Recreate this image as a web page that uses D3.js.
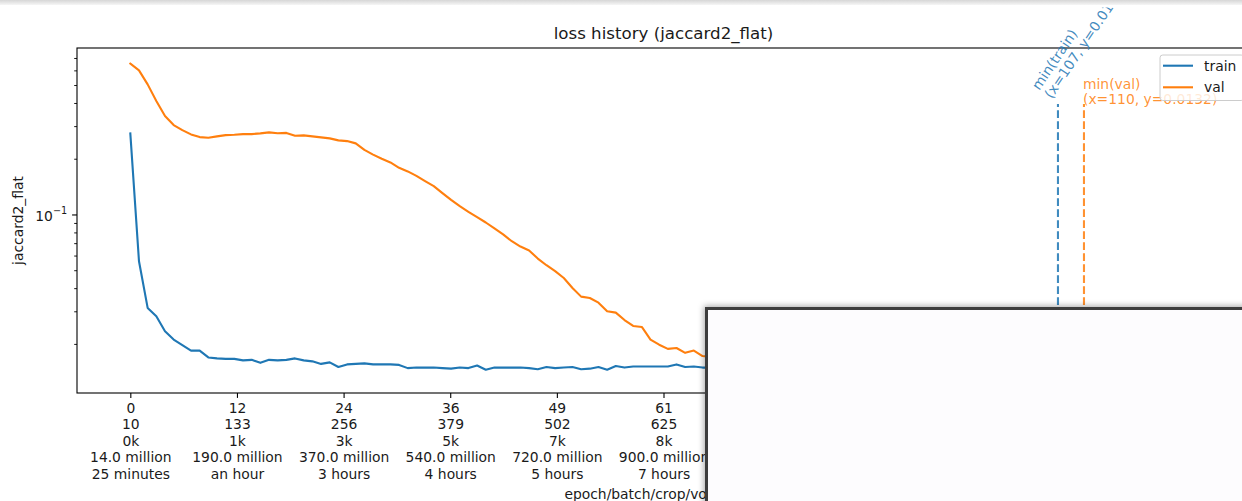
<!DOCTYPE html>
<html>
<head>
<meta charset="utf-8">
<script src="https://cdn.jsdelivr.net/npm/d3@7/dist/d3.min.js"></script>
<style>
  body { margin: 0; background: #fff; overflow: hidden; }
  svg { display: block; font-family: 'DejaVu Sans', sans-serif; }
</style>
</head>
<body>
<div id="chart"></div>
<script>
// loss per epoch (index = epoch)
const trainLoss = [
  0.274, 0.0559, 0.0313, 0.0282, 0.0234, 0.0211, 0.0197, 0.0184, 0.0184, 0.0169,
  0.0167, 0.0166, 0.0166, 0.0163, 0.0164, 0.0158, 0.0164, 0.0163, 0.0164, 0.0167,
  0.0163, 0.0161, 0.0156, 0.0159, 0.0150, 0.0155, 0.0156, 0.0157, 0.0155, 0.0155,
  0.0155, 0.0154, 0.0148, 0.0149, 0.0149, 0.0149, 0.0148, 0.0147, 0.0149, 0.0148,
  0.0153, 0.0145, 0.0149, 0.0149, 0.0149, 0.0149, 0.0148, 0.0146, 0.0150, 0.0148,
  0.0149, 0.0150, 0.0146, 0.0147, 0.0150, 0.0145, 0.0152, 0.0149, 0.0151, 0.0151,
  0.0151, 0.0151, 0.0151, 0.0155, 0.0150, 0.0151, 0.0149, 0.0149, 0.0148, 0.0150,
  0.0147, 0.0148, 0.0146, 0.0147, 0.0148, 0.0146, 0.0145, 0.0147, 0.0146, 0.0145,
  0.0146, 0.0144, 0.0145, 0.0146, 0.0144, 0.0145, 0.0143, 0.0144, 0.0145, 0.0143,
  0.0144, 0.0143, 0.0142, 0.0144, 0.0143, 0.0142, 0.0143, 0.0142, 0.0143, 0.0142,
  0.0141, 0.0142, 0.0143, 0.0141, 0.0142, 0.0141, 0.0142, 0.0140, 0.0142, 0.0141,
  0.0142, 0.0141, 0.0142, 0.0143, 0.0141, 0.0142, 0.0141, 0.0142, 0.0143, 0.0141,
  0.0142, 0.0141, 0.0142, 0.0141
];
const valLoss = [
  0.652, 0.600, 0.504, 0.410, 0.340, 0.304, 0.2855, 0.2706, 0.2617, 0.2594,
  0.2640, 0.2683, 0.2693, 0.2716, 0.2716, 0.2740, 0.2775, 0.2747, 0.2757, 0.2660,
  0.2673, 0.2640, 0.2607, 0.2575, 0.2512, 0.2490, 0.2420, 0.2232, 0.2105, 0.1998,
  0.1910, 0.1786, 0.1708, 0.1617, 0.1514, 0.1422, 0.1304, 0.1199, 0.1109, 0.1033,
  0.0967, 0.0905, 0.0840, 0.0780, 0.0717, 0.0671, 0.0639, 0.0578, 0.0532, 0.0494,
  0.0454, 0.0401, 0.0360, 0.0354, 0.0334, 0.0300, 0.0295, 0.0269, 0.0250, 0.0247,
  0.0211, 0.0198, 0.0188, 0.0190, 0.0179, 0.0184, 0.0172, 0.0170, 0.0168, 0.0166,
  0.0163, 0.0161, 0.0160, 0.0157, 0.0156, 0.0154, 0.0153, 0.0151, 0.0150, 0.0149,
  0.0147, 0.0146, 0.0146, 0.0144, 0.0143, 0.0143, 0.0142, 0.0141, 0.0141, 0.0140,
  0.0139, 0.0139, 0.0138, 0.0138, 0.0137, 0.0137, 0.0137, 0.0136, 0.0136, 0.0135,
  0.0135, 0.0135, 0.0134, 0.0134, 0.0134, 0.0133, 0.0133, 0.0134, 0.0133, 0.0133,
  0.0132, 0.0133, 0.0133, 0.0134, 0.0133, 0.0134, 0.0134, 0.0135, 0.0134, 0.0135,
  0.0135, 0.0136, 0.0135, 0.0136
];

// x tick positions (epochs) and the five label rows under each tick
const tickEpochs = [0, 12.3, 24.6, 36.9, 49.2, 61.5, 73.8, 86.1, 98.4, 110.7, 123];
const tickEpochLabels = ['0', '12', '24', '36', '49', '61', '73', '86', '98', '110', '123'];
const tickBatchLabels = ['10', '133', '256', '379', '502', '625', '748', '871', '994', '1117', '1240'];
const tickCropLabels = ['0k', '1k', '3k', '5k', '7k', '8k', '10k', '12k', '14k', '15k', '17k'];
const tickVoxelLabels = ['14.0 million', '190.0 million', '370.0 million', '540.0 million', '720.0 million',
  '900.0 million', '1.1 billion', '1.3 billion', '1.4 billion', '1.6 billion', '1.8 billion'];
const tickTimeLabels = ['25 minutes', 'an hour', '3 hours', '4 hours', '5 hours', '7 hours',
  '8 hours', '9 hours', '10 hours', '12 hours', '13 hours'];

const yMinorTicks = [0.02, 0.03, 0.04, 0.05, 0.06, 0.07, 0.08, 0.09, 0.2, 0.3, 0.4, 0.5, 0.6, 0.7];
const yMajorTicks = [0.1];
const annotTop = 0.395;

const blue = '#1f77b4';
const orange = '#ff7f0e';

function draw () {
  const svgWidth = 1242;
  const svgHeight = 501;
  const margin = { top: 48, left: 77 };
  const width = 1173;
  const height = 345;
  const fs = 13.89;

  const svg = d3.select('#chart')
    .append('svg')
    .attr('width', svgWidth)
    .attr('height', svgHeight);

  const defs = svg.append('defs');
  defs.append('clipPath').attr('id', 'plot-clip')
    .append('rect')
    .attr('x', margin.left).attr('y', margin.top)
    .attr('width', width).attr('height', height);
  // the figure itself starts a little below the window edge
  defs.append('clipPath').attr('id', 'fig-clip')
    .append('rect')
    .attr('x', 0).attr('y', 7.5)
    .attr('width', svgWidth).attr('height', svgHeight);
  const shadow = defs.append('filter').attr('id', 'shadow')
    .attr('x', '-5%').attr('y', '-5%').attr('width', '110%').attr('height', '110%');
  shadow.append('feDropShadow')
    .attr('dx', -1).attr('dy', -1).attr('stdDeviation', 3)
    .attr('flood-color', '#000').attr('flood-opacity', 0.35);
  const band = defs.append('linearGradient').attr('id', 'band')
    .attr('x1', 0).attr('y1', 0).attr('x2', 0).attr('y2', 1);
  band.append('stop').attr('offset', '0%').attr('stop-color', '#d6d6d6');
  band.append('stop').attr('offset', '100%').attr('stop-color', '#f6f6f6');

  const train = trainLoss.map((v, i) => ({ epoch: i, value: v }));
  const val = valLoss.map((v, i) => ({ epoch: i, value: v }));

  // matplotlib-like 5% margins (log space on y)
  const xExt = d3.extent(train, d => d.epoch);
  const xPad = (xExt[1] - xExt[0]) * 0.05;
  const all = trainLoss.concat(valLoss);
  const lo = Math.log10(d3.min(all));
  const hi = Math.log10(d3.max(all));
  const yPad = (hi - lo) * 0.05;

  const x = d3.scaleLinear()
    .domain([xExt[0] - xPad, xExt[1] + xPad])
    .range([margin.left, margin.left + width]);
  const y = d3.scaleLog()
    .domain([Math.pow(10, lo - yPad), Math.pow(10, hi + yPad)])
    .range([margin.top + height, margin.top]);

  const y0 = margin.top + height;

  // x axis with multi-row labels
  const xAxis = svg.append('g')
    .attr('transform', `translate(0, ${y0})`)
    .call(d3.axisBottom(x).tickValues(tickEpochs).tickSize(4.9).tickPadding(4.9));
  xAxis.select('.domain').remove();
  xAxis.selectAll('.tick line').attr('stroke', '#000').attr('stroke-width', 1.1);
  const rows = [tickEpochLabels, tickBatchLabels, tickCropLabels, tickVoxelLabels, tickTimeLabels];
  xAxis.selectAll('.tick text').each(function (d, i) {
    const t = d3.select(this).text(null).attr('dy', null).attr('y', null)
      .attr('fill', '#1a1a1a').style('font-size', fs + 'px').style('font-family', 'DejaVu Sans');
    rows.forEach((row, r) => {
      t.append('tspan').attr('x', 0).attr('y', 20 + r * 16.4).text(row[i]);
    });
  });

  // y axis: minor ticks, then major tick with 10^-1 label
  const yMinor = svg.append('g')
    .attr('transform', `translate(${margin.left}, 0)`)
    .call(d3.axisLeft(y).tickValues(yMinorTicks).tickSize(2.8).tickFormat(''));
  yMinor.select('.domain').remove();
  yMinor.selectAll('.tick line').attr('stroke', '#000').attr('stroke-width', 0.9);

  const yMajor = svg.append('g')
    .attr('transform', `translate(${margin.left}, 0)`)
    .call(d3.axisLeft(y).tickValues(yMajorTicks).tickSize(4.9).tickPadding(4.9).tickFormat(''));
  yMajor.select('.domain').remove();
  yMajor.selectAll('.tick line').attr('stroke', '#000').attr('stroke-width', 1.1);
  yMajor.selectAll('.tick text').each(function (d) {
    const t = d3.select(this).attr('dy', null).attr('y', 6)
      .attr('fill', '#1a1a1a').style('font-size', fs + 'px').style('font-family', 'DejaVu Sans');
    t.append('tspan').text('10');
    t.append('tspan').attr('dy', -6.5).style('font-size', '9.7px').text('\u2212' + Math.round(-Math.log10(d)));
  });

  // lines
  const line = d3.line()
    .x(d => x(d.epoch))
    .y(d => y(d.value));
  const plot = svg.append('g').attr('clip-path', 'url(#plot-clip)');
  plot.append('path').datum(train)
    .attr('fill', 'none').attr('stroke', blue).attr('stroke-width', 2.1)
    .attr('stroke-linejoin', 'round').attr('stroke-linecap', 'square').attr('d', line);
  plot.append('path').datum(val)
    .attr('fill', 'none').attr('stroke', orange).attr('stroke-width', 2.1)
    .attr('stroke-linejoin', 'round').attr('stroke-linecap', 'square').attr('d', line);

  // frame
  svg.append('rect')
    .attr('x', margin.left).attr('y', margin.top)
    .attr('width', width).attr('height', height)
    .attr('fill', 'none').attr('stroke', '#000').attr('stroke-width', 1.1);

  // min annotations
  const ann = svg.append('g').attr('clip-path', 'url(#fig-clip)');
  const iTrain = d3.minIndex(trainLoss);
  const iVal = d3.minIndex(valLoss);
  [[iTrain, blue], [iVal, orange]].forEach(([i, c]) => {
    ann.append('line')
      .attr('x1', x(i)).attr('x2', x(i))
      .attr('y1', y0).attr('y2', y(annotTop))
      .attr('stroke', c).attr('stroke-opacity', 0.85)
      .attr('stroke-width', 2.1).attr('stroke-dasharray', '7.7,3.3');
  });

  const tTrain = ann.append('text')
    .attr('transform', `translate(${x(iTrain) - 6.3}, ${y(annotTop) - 4.6}) rotate(-56)`)
    .attr('fill', blue).attr('fill-opacity', 0.85)
    .style('font-size', fs + 'px');
  tTrain.append('tspan').attr('x', 0).attr('y', -15).text('min(train)');
  tTrain.append('tspan').attr('x', 0).attr('y', 0)
    .text(`(x=${iTrain}, y=${trainLoss[iTrain].toFixed(4)})`);

  const tVal = ann.append('text')
    .attr('transform', `translate(${x(iVal) - 1}, ${y(annotTop)})`)
    .attr('fill', orange).attr('fill-opacity', 0.85)
    .style('font-size', fs + 'px');
  tVal.append('tspan').attr('x', 0).attr('y', -15.3).text('min(val)');
  tVal.append('tspan').attr('x', 0).attr('y', 0)
    .text(`(x=${iVal}, y=${valLoss[iVal].toFixed(4)})`);

  // legend
  const legend = svg.append('g');
  legend.append('rect')
    .attr('x', 1160).attr('y', 55).attr('width', 84).attr('height', 45.5).attr('rx', 2.8)
    .attr('fill', '#fff').attr('fill-opacity', 0.8)
    .attr('stroke', '#cccccc').attr('stroke-width', 1);
  [['train', blue, 65.7], ['val', orange, 87.3]].forEach(([name, c, ly]) => {
    legend.append('line')
      .attr('x1', 1163).attr('x2', 1193).attr('y1', ly).attr('y2', ly)
      .attr('stroke', c).attr('stroke-width', 2.1);
    legend.append('text')
      .attr('x', 1204).attr('y', ly + 4.8)
      .attr('fill', '#1a1a1a').style('font-size', fs + 'px').text(name);
  });

  // titles
  svg.append('text')
    .attr('x', margin.left + width / 2).attr('y', 39)
    .attr('text-anchor', 'middle').attr('fill', '#1a1a1a')
    .style('font-size', '16.67px').text('loss history (jaccard2_flat)');
  svg.append('text')
    .attr('x', margin.left + width / 2).attr('y', 499)
    .attr('text-anchor', 'middle').attr('fill', '#1a1a1a')
    .style('font-size', fs + 'px').text('epoch/batch/crop/voxel/time');
  svg.append('text')
    .attr('transform', `translate(23, ${margin.top + height / 2}) rotate(-90)`)
    .attr('text-anchor', 'middle').attr('fill', '#1a1a1a')
    .style('font-size', fs + 'px').text('jaccard2_flat');

  // popup window covering the lower right
  svg.append('rect')
    .attr('x', 706.5).attr('y', 308.5).attr('width', 600).attr('height', 300)
    .attr('fill', '#fdfcfe').attr('stroke', '#3e3e3e').attr('stroke-width', 3)
    .attr('filter', 'url(#shadow)');

  // top window edge
  svg.append('rect')
    .attr('x', 0).attr('y', 0).attr('width', svgWidth).attr('height', 5)
    .attr('fill', 'url(#band)');
}
draw();
</script>
</body>
</html>
